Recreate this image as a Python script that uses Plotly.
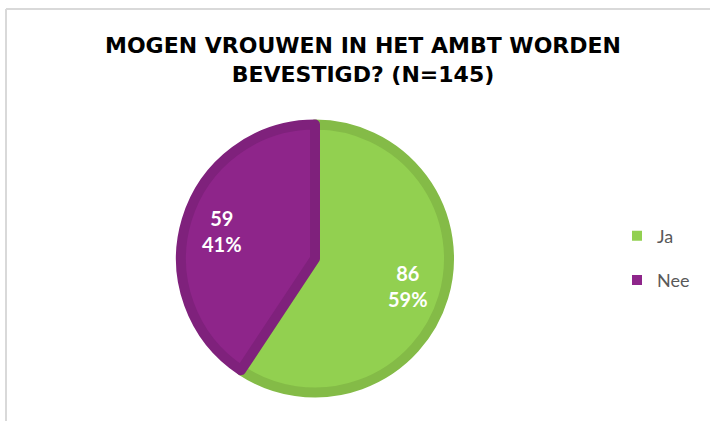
import math
import plotly.graph_objects as go

categories = ["Ja", "Nee"]
values = [86, 59]
fill_colors = ["#92D050", "#8E258A"]
border_colors = ["#84BB47", "#7F217C"]
title_text = "MOGEN VROUWEN IN HET AMBT WORDEN<br>BEVESTIGD? (N=145)"

W, H = 710, 421

# pie geometry (pixels, top-left origin)
PIE_CX, PIE_CY, PIE_R = 315, 258.5, 134
LABEL_R = 97

dom_x = [(PIE_CX - PIE_R) / W, (PIE_CX + PIE_R) / W]
dom_y = [1 - (PIE_CY + PIE_R) / H, 1 - (PIE_CY - PIE_R) / H]

fig = go.Figure()
fig.add_trace(go.Pie(
    labels=categories,
    values=values,
    sort=False,
    direction="clockwise",
    rotation=0,
    marker=dict(colors=fill_colors, line=dict(color=border_colors, width=10)),
    textinfo="none",
    showlegend=False,
    domain=dict(x=dom_x, y=dom_y),
    hoverinfo="label+value+percent",
))

# data labels placed on each slice's bisector, derived from the values
total = sum(values)
annotations = []
cum = 0
for v in values:
    mid = (cum + v / 2) / total * 2 * math.pi
    cum += v
    px = PIE_CX + LABEL_R * math.sin(mid)
    py = PIE_CY - LABEL_R * math.cos(mid)
    annotations.append(dict(
        x=px / W, y=1 - py / H, xref="paper", yref="paper",
        xanchor="center", yanchor="middle",
        text=f"{v}<br>{round(100 * v / total)}%",
        showarrow=False, align="center",
        font=dict(family="Lato", size=20, color="white", weight="bold"),
    ))

# legend entries (square swatches) built from the same data
for i, (cat, col) in enumerate(zip(categories, fill_colors)):
    fig.add_trace(go.Scatter(
        x=[None], y=[None], mode="markers", name=cat,
        marker=dict(symbol="square", size=10, color=col),
        legendgroup=f"g{i}", showlegend=True,
    ))

fig.update_layout(
    width=W, height=H,
    margin=dict(l=0, r=0, t=0, b=0),
    paper_bgcolor="white", plot_bgcolor="white",
    xaxis=dict(visible=False), yaxis=dict(visible=False),
    title=dict(
        text=title_text,
        x=363 / W, xanchor="center", xref="paper",
        y=1 - 53 / H, yanchor="middle", yref="paper",
        font=dict(family="DejaVu Sans", size=22, color="black", weight="bold"),
    ),
    legend=dict(
        x=617 / W, xanchor="left", y=1 - 217.5 / H, yanchor="top",
        font=dict(family="Lato", size=18, color="#595959"),
        tracegroupgap=18, bgcolor="rgba(0,0,0,0)",
    ),
    annotations=annotations,
    shapes=[
        dict(type="line", xref="paper", yref="paper", x0=6 / W, x1=1, y0=1 - 9 / H, y1=1 - 9 / H,
             line=dict(color="#D9D9D9", width=2)),
        dict(type="line", xref="paper", yref="paper", x0=6 / W, x1=6 / W, y0=1 - 9 / H, y1=0,
             line=dict(color="#D9D9D9", width=2)),
    ],
)

fig.write_html("out.html", config={"displayModeBar": False},
               post_script="document.body.style.margin='0';")
